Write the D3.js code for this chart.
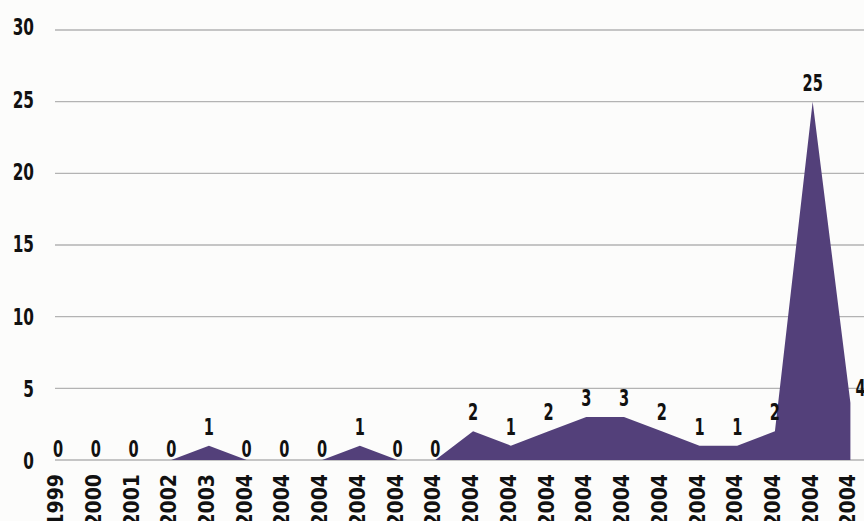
<!DOCTYPE html>
<html>
<head>
<meta charset="utf-8">
<script src="https://cdn.jsdelivr.net/npm/d3@7"></script>
<style>
  html, body { margin: 0; padding: 0; background: #fcfcfb; }
  svg { display: block; }
  text { font-family: "DejaVu Sans Condensed", "DejaVu Sans", sans-serif; font-weight: bold; fill: #111; }
</style>
</head>
<body>
<svg id="chart" width="864" height="521"></svg>
<script>
// Yearly counts drawn as a filled area
const years = ["1999", "2000", "2001", "2002", "2003", "2004", "2004", "2004", "2004", "2004", "2004",
               "2004", "2004", "2004", "2004", "2004", "2004", "2004", "2004", "2004", "2004", "2004"];
const counts = [0, 0, 0, 0, 1, 0, 0, 0, 1, 0, 0, 2, 1, 2, 3, 3, 2, 1, 1, 2, 25, 4];
const yTicks = [0, 5, 10, 15, 20, 25, 30];

const W = 864, H = 521;
const svg = d3.select("#chart");
const areaColor = "#53407a";

const x = d3.scalePoint().domain(d3.range(years.length)).range([58, 850.4]);
const y = d3.scaleLinear().domain([0, 30]).range([460, 30]);
// tick labels sit on a slightly wider span than the grid lines
const yLab = d3.scaleLinear().domain([0, 30]).range([461, 27]);

// horizontal grid
svg.append("g")
  .selectAll("line")
  .data(yTicks)
  .join("line")
  .attr("x1", 55).attr("x2", W)
  .attr("y1", d => y(d)).attr("y2", d => y(d))
  .attr("stroke", "#b3b3b3")
  .attr("stroke-width", 1.3);

// y tick labels
svg.append("g")
  .selectAll("text")
  .data(yTicks)
  .join("text")
  .attr("transform", d => `translate(34,${yLab(d)}) scale(0.74,1)`)
  .attr("text-anchor", "end")
  .attr("dy", "0.36em")
  .style("font-size", "23px")
  .text(d => d);

// area
const area = d3.area()
  .x((d, i) => x(i))
  .y0(y(0))
  .y1(d => y(d))
  .curve(d3.curveLinear);

svg.append("path")
  .datum(counts)
  .attr("d", area)
  .attr("fill", areaColor);

// value labels above each point
const last = counts.length - 1;
svg.append("g")
  .selectAll("text")
  .data(counts)
  .join("text")
  .attr("transform", (d, i) => {
    const px = i === last ? x(i) + 5 : x(i);
    const py = i === last ? y(d) - 15 : y(d) - (d === 0 ? 11 : 19);
    return `translate(${px},${py}) scale(0.72,1)`;
  })
  .attr("text-anchor", (d, i) => i === last ? "start" : "middle")
  .attr("dy", "0.36em")
  .style("font-size", "22.5px")
  .text(d => d);

// rotated category labels
svg.append("g")
  .selectAll("text")
  .data(years)
  .join("text")
  .attr("transform", (d, i) => `translate(${x(i) - 2.5},474) rotate(-90)`)
  .attr("text-anchor", "end")
  .attr("dy", "0.36em")
  .style("font-size", "21px")
  .text(d => d);
</script>
</body>
</html>
